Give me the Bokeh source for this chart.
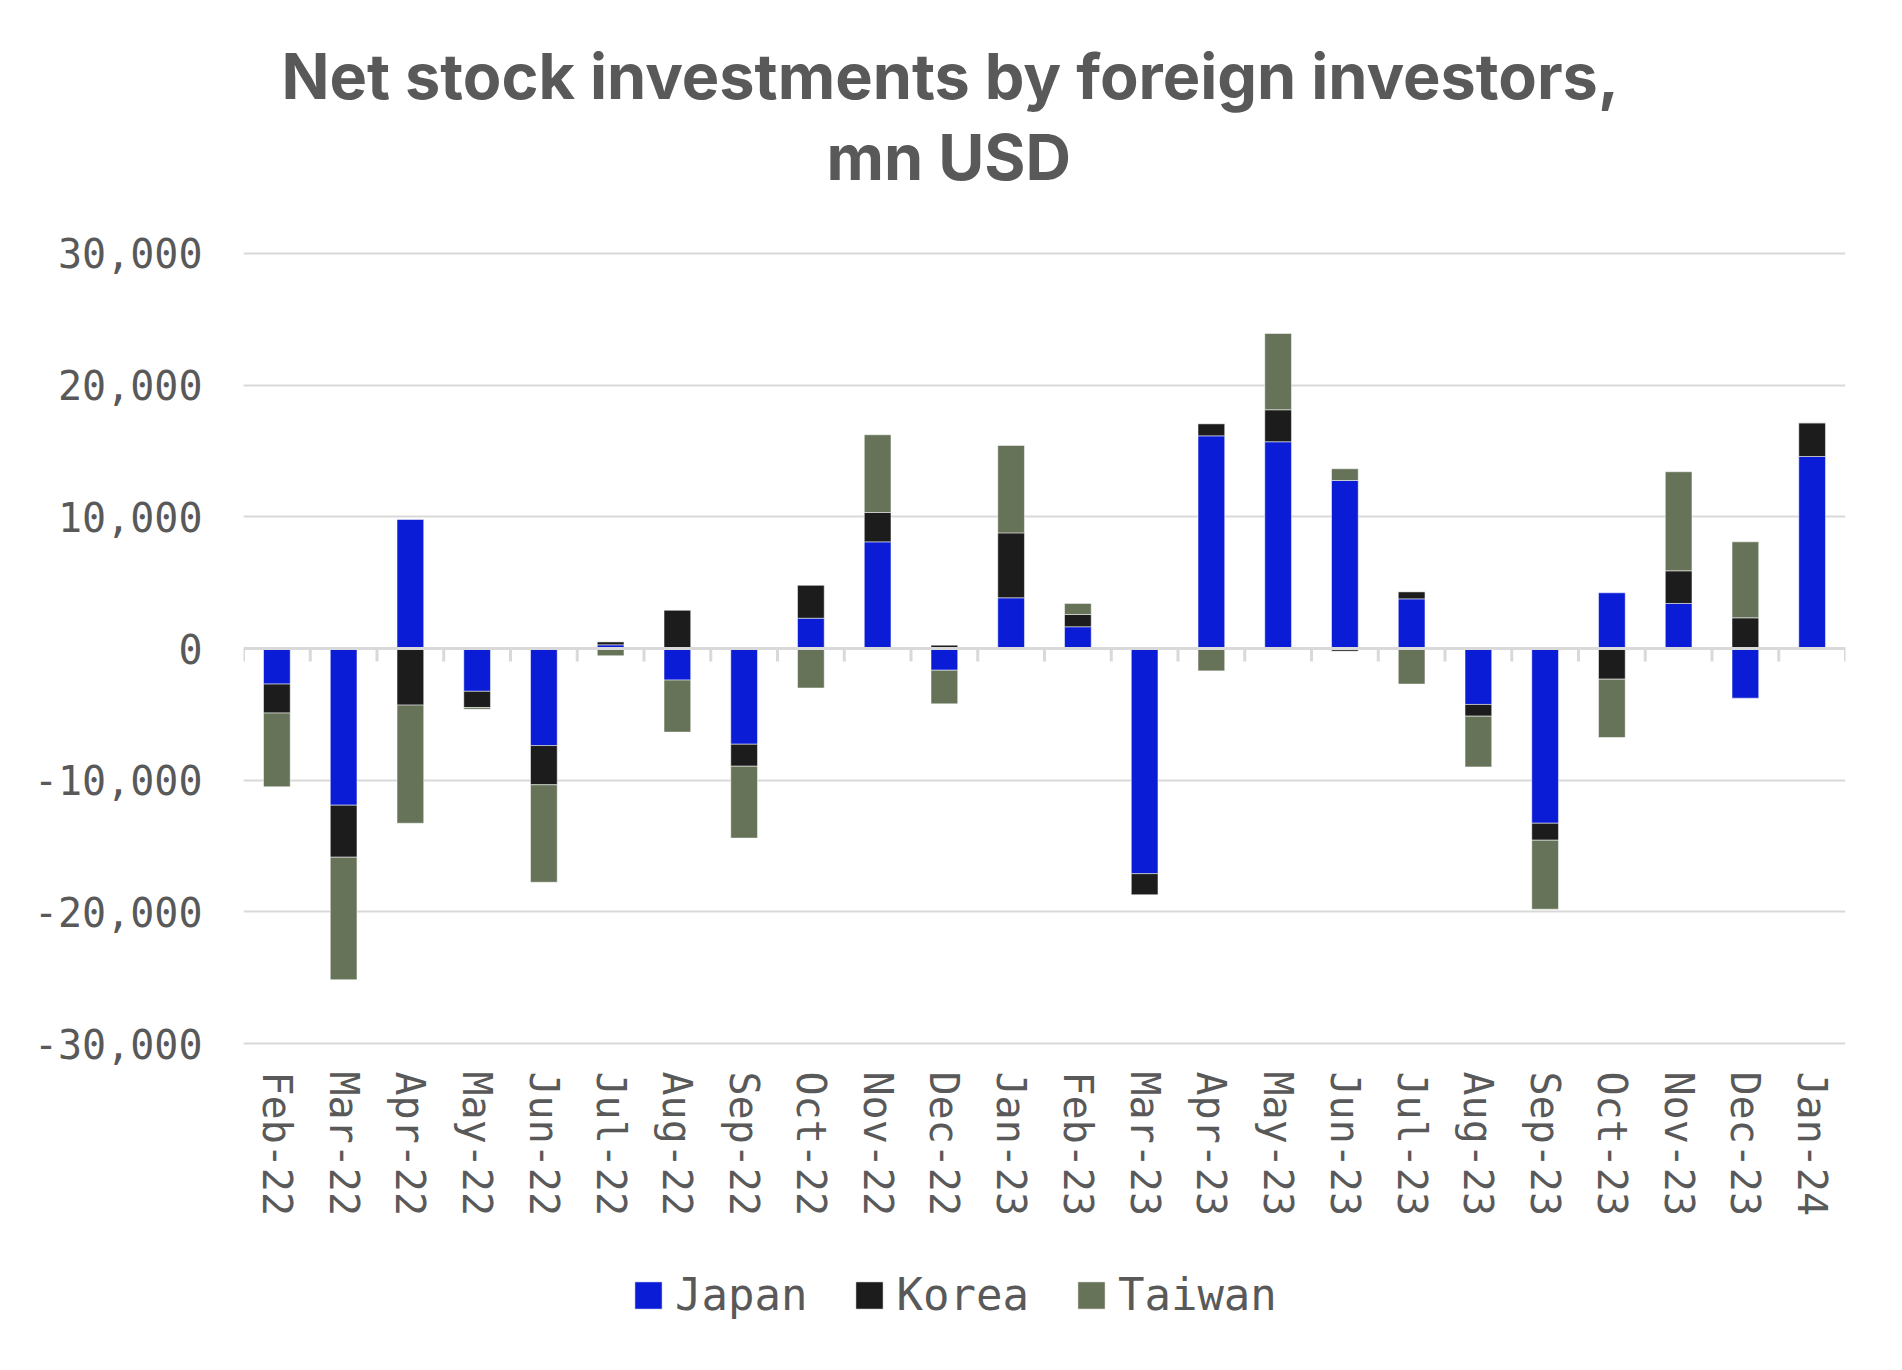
import numpy as np
from bokeh.plotting import figure
from bokeh.layouts import column
from bokeh.models import Range1d, FixedTicker, Legend, LegendItem, Title, Span, NumeralTickFormatter
from bokeh.embed import file_html
from bokeh.resources import INLINE

months = ["Feb-22", "Mar-22", "Apr-22", "May-22", "Jun-22", "Jul-22", "Aug-22", "Sep-22",
          "Oct-22", "Nov-22", "Dec-22", "Jan-23", "Feb-23", "Mar-23", "Apr-23", "May-23",
          "Jun-23", "Jul-23", "Aug-23", "Sep-23", "Oct-23", "Nov-23", "Dec-23", "Jan-24"]
japan = [-2700, -11900, 9800, -3250, -7370, 280, -2400, -7270, 2300, 8100, -1650, 3850,
         1650, -17100, 16150, 15700, 12760, 3770, -4250, -13270, 4230, 3420, -3770, 14580]
korea = [-2200, -3950, -4300, -1230, -2980, 220, 2900, -1670, 2500, 2230, 250, 4930,
         930, -1600, 910, 2430, -200, 530, -890, -1290, -2330, 2480, 2330, 2560]
taiwan = [-5600, -9300, -8970, -130, -7400, -550, -3950, -5460, -3000, 5900, -2550, 6640,
          840, 0, -1700, 5790, 890, -2700, -3850, -5240, -4430, 7520, 5770, 0]
series_names = ["Japan", "Korea", "Taiwan"]
y_ticks = [-30000, -20000, -10000, 0, 10000, 20000, 30000]

colors = ["#0a1cd6", "#1c1c1c", "#667358"]
TXT = "#595959"
MONO = "DejaVu Sans Mono"

p = figure(width=1886, height=1230, output_backend="svg", toolbar_location=None,
           x_range=Range1d(-0.5, len(months) - 0.5), y_range=Range1d(-30300, 30300),
           frame_width=1602, frame_height=798,
           min_border_left=243, min_border_right=41, min_border_top=249, min_border_bottom=183)
p.outline_line_color = None
p.background_fill_color = "white"

x = np.arange(len(months))
pos_base = np.zeros(len(months))
neg_base = np.zeros(len(months))
for name, vals, col in zip(series_names, [japan, korea, taiwan], colors):
    v = np.array(vals, dtype=float)
    bottom = np.where(v >= 0, pos_base, neg_base)
    top = bottom + v
    pos_base = np.where(v >= 0, top, pos_base)
    neg_base = np.where(v < 0, top, neg_base)
    p.vbar(x=x, bottom=bottom, top=top, width=0.4, fill_color=col,
           line_color="white", line_width=1, line_alpha=0.5)

# category boundary ticks on the zero line
b = np.arange(len(months) + 1) - 0.5
p.segment(x0=b, y0=np.zeros(len(b)), x1=b, y1=np.full(len(b), -990),
          line_color="#d9d9d9", line_width=3)
p.add_layout(Span(location=0, dimension="width", line_color="#d9d9d9", line_width=3))

p.ygrid.ticker = FixedTicker(ticks=y_ticks)
p.ygrid.grid_line_color = "#d9d9d9"
p.ygrid.grid_line_width = 2
p.xgrid.grid_line_color = None

p.yaxis.ticker = FixedTicker(ticks=y_ticks)
p.yaxis.formatter = NumeralTickFormatter(format="0,0")
p.yaxis.axis_line_color = None
p.yaxis.major_tick_line_color = None
p.yaxis.minor_tick_line_color = None
p.yaxis.major_label_text_font = MONO
p.yaxis.major_label_text_font_size = "40px"
p.yaxis.major_label_text_color = TXT
p.yaxis.major_label_standoff = 35

p.xaxis.ticker = FixedTicker(ticks=list(range(len(months))))
p.xaxis.major_label_overrides = {i: m for i, m in enumerate(months)}
p.xaxis.major_label_orientation = "vertical"
p.xaxis.axis_line_color = None
p.xaxis.major_tick_line_color = None
p.xaxis.minor_tick_line_color = None
p.xaxis.major_label_text_font = MONO
p.xaxis.major_label_text_font_size = "40px"
p.xaxis.major_label_text_color = TXT
p.xaxis.major_label_standoff = 18

p.title.text = "Net stock investments by foreign investors,"
p.title.align = "left"
p.title.offset = 38
p.title.text_font = "Inter"
p.title.text_font_size = "63px"
p.title.text_font_style = "bold"
p.title.text_color = TXT
p.title.standoff = 0
# spacer between subtitle and plot frame
p.add_layout(Title(text=" ", text_font="Inter", text_font_size="10px", standoff=37), "above")
p.add_layout(Title(text="mn USD", align="left", offset=583, text_font="Inter",
                   text_font_size="63px", text_font_style="bold", text_color=TXT,
                   standoff=7), "above")

# legend strip below the chart (renderers hold no drawable point, only legend swatches)
lg = figure(width=1886, height=120, output_backend="svg", toolbar_location=None,
            x_range=Range1d(0, 1), y_range=Range1d(0, 1),
            x_axis_location=None, y_axis_location=None,
            min_border_left=0, min_border_right=0, min_border_top=0, min_border_bottom=0)
lg.outline_line_color = None
lg.xgrid.grid_line_color = None
lg.ygrid.grid_line_color = None
items = []
for name, col in zip(series_names, colors):
    r = lg.vbar(x=[np.nan], top=[np.nan], width=0.4, fill_color=col,
                line_color="white", line_width=1, line_alpha=0.5)
    items.append(LegendItem(label=name, renderers=[r]))
legend = Legend(items=items, orientation="horizontal", location=(388, 30),
                label_text_font=MONO, label_text_font_size="44px", label_text_color=TXT,
                glyph_width=34, glyph_height=34, label_standoff=10, spacing=45,
                padding=0, margin=0, border_line_color=None, background_fill_alpha=0)
lg.add_layout(legend)

open("out.html", "w").write(file_html(column(p, lg, spacing=0), INLINE))
